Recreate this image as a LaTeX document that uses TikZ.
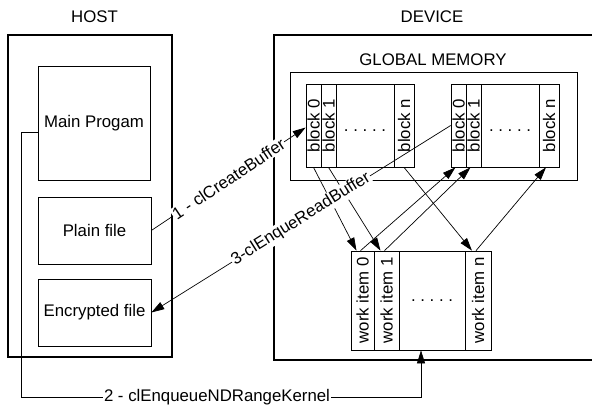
\documentclass[tikz,border=0pt]{standalone}
\usepackage{fontspec}
\setmainfont{Liberation Sans}
\usetikzlibrary{arrows.meta,positioning}
\frenchspacing

\tikzset{
  box/.style={draw, line width=0.7pt, inner sep=0pt},
  outerbox/.style={draw, line width=2pt, inner sep=0pt},
  arr/.style={-{Triangle[length=13pt,width=8pt]}, line width=0.7pt},
  lbl/.style={fill=white, inner sep=1pt},
}

\begin{document}
\begin{tikzpicture}[x=1pt,y=-1pt,font=\fontsize{16.8}{18}\selectfont]
\useasboundingbox (0,0) rectangle (592,410);
\clip (0,0) rectangle (592,410);

% host
\node[outerbox, minimum width=164, minimum height=322] (host) at (90,196) {};
\node (hosttitle) at (94.5,17) {HOST};
\node[box, minimum width=112, minimum height=114] (main) at (94,123) {Main Progam};
\node[box, minimum width=113, minimum height=67] (plain) at (94.5,230.5) {Plain file};
\node[box, minimum width=113, minimum height=67] (enc) at (94.5,312.5) {Encrypted file};

% device
\node[outerbox, minimum width=326, minimum height=325] (device) at (437,197.5) {};
\node (devtitle) at (432,17) {DEVICE};
\node[box, minimum width=287, minimum height=108] (gmem) at (433.5,126) {};
\node (gmemtitle) at (433,59.5) {GLOBAL MEMORY};

% two buffers of blocks
\foreach \g/\d in {a/0,b/145}{
\node[box, minimum width=15, minimum height=83] (b0\g) at (\d+313.5,125.5) {\rotatebox{90}{block 0}};
\node[box, minimum width=15, minimum height=83] (b1\g) at (\d+328.5,125.5) {\rotatebox{90}{block 1}};
\node[box, minimum width=58, minimum height=83, text height=12pt, text depth=0pt] (dt\g) at (\d+365,125.5) {. . . . .};
\node[box, minimum width=20, minimum height=83] (bn\g) at (\d+404,125.5) {\rotatebox{90}{block n}};
}

% work items
\node[box, minimum width=140, minimum height=99] (work) at (421,300.5) {};
\node[box, minimum width=23, minimum height=99] (w0) at (362.5,300.5) {\rotatebox{90}{work item 0}};
\node[box, minimum width=25, minimum height=99] (w1) at (386.5,300.5) {\rotatebox{90}{work item 1}};
\node[box, minimum width=66, minimum height=99] (wd) at (432,300.5) {. . . . .};
\node[box, minimum width=26, minimum height=99] (wn) at (478,300.5) {\rotatebox{90}{work item n}};

\foreach \s/\w/\t in {b0a/w0/b0b, b1a/w1/b1b, bna/wn/bnb}{
\draw[arr] (\s.south) -- ([xshift=-6pt]\w.north);
\draw[arr] ([xshift=-2pt]\w.north) -- ([xshift=-3pt]\t.south);
}

% host calls
\draw[arr] (plain.east) -- node[lbl, sloped] {1 - clCreateBuffer} ([yshift=-2pt]b0a.west);
\draw[arr] (b0b.west) -- node[lbl, sloped] {3-clEnqueReadBuffer} (enc.east);

\coordinate (kturn) at (21,397);
\draw[arr] ([yshift=-9pt]main.west) -| (kturn) -- node[lbl, pos=0.49] {2 - clEnqueueNDRangeKernel} (kturn -| work.south) -- (work.south);

\end{tikzpicture}
\end{document}
